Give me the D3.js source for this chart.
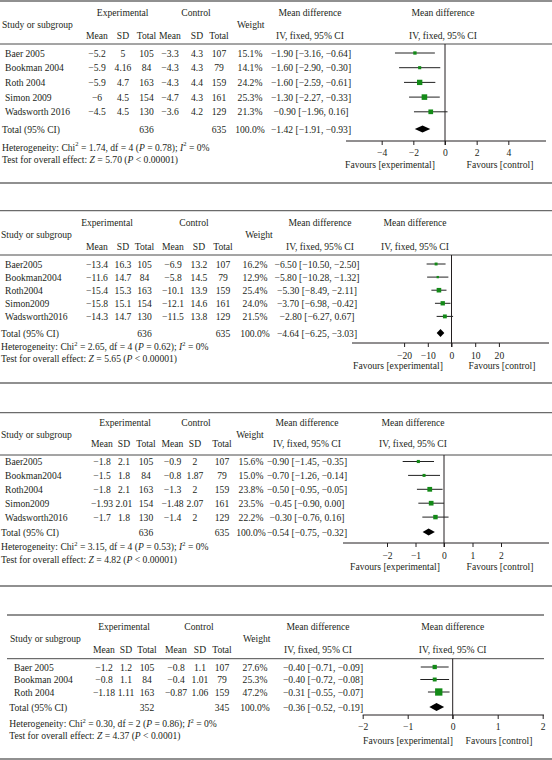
<!DOCTYPE html>
<html><head><meta charset="utf-8">
<script src="https://cdn.jsdelivr.net/npm/d3@7"></script>
<style>
body{margin:0;background:#fff}
svg{display:block}
text{font-family:"Liberation Serif","Times New Roman",serif;font-size:9.6px;fill:#231f20}
</style>
</head><body>
<svg id="c" width="552" height="760"></svg>
<script>
// ---------- DATA ----------
// Panel 1
const p1Studies = ["Baer 2005","Bookman 2004","Roth 2004","Simon 2009","Wadsworth 2016"];
const p1ExpMean = [-5.2,-5.9,-5.9,-6,-4.5];
const p1ExpSD   = [5,4.16,4.7,4.5,4.5];
const p1ExpN    = [105,84,163,154,130];
const p1CtlMean = [-3.3,-4.3,-4.3,-4.7,-3.6];
const p1CtlSD   = [4.3,4.3,4.4,4.3,4.2];
const p1CtlN    = [107,79,159,161,129];
const p1Weight  = [15.1,14.1,24.2,25.3,21.3];
const p1MD      = [-1.90,-1.60,-1.60,-1.30,-0.90];
const p1Lo      = [-3.16,-2.90,-2.59,-2.27,-1.96];
const p1Hi      = [-0.64,-0.30,-0.61,-0.33,0.16];
const p1Total   = {expN:636, ctlN:635, md:-1.42, lo:-1.91, hi:-0.93};
const p1Het     = {chi:"1.74", df:4, p:"0.78", i2:"0%"};
const p1Test    = {z:"5.70", p:"< 0.00001"};
const p1Ticks   = [-4,-2,0,2,4];

// Panel 2
const p2Studies = ["Baer2005","Bookman2004","Roth2004","Simon2009","Wadsworth2016"];
const p2ExpMean = [-13.4,-11.6,-15.4,-15.8,-14.3];
const p2ExpSD   = [16.3,14.7,15.3,15.1,14.7];
const p2ExpN    = [105,84,163,154,130];
const p2CtlMean = [-6.9,-5.8,-10.1,-12.1,-11.5];
const p2CtlSD   = [13.2,14.5,13.9,14.6,13.8];
const p2CtlN    = [107,79,159,161,129];
const p2Weight  = [16.2,12.9,25.4,24.0,21.5];
const p2MD      = [-6.50,-5.80,-5.30,-3.70,-2.80];
const p2Lo      = [-10.50,-10.28,-8.49,-6.98,-6.27];
const p2Hi      = [-2.50,-1.32,-2.11,-0.42,0.67];
const p2Total   = {expN:636, ctlN:635, md:-4.64, lo:-6.25, hi:-3.03};
const p2Het     = {chi:"2.65", df:4, p:"0.62", i2:"0%"};
const p2Test    = {z:"5.65", p:"< 0.00001"};
const p2Ticks   = [-20,-10,0,10,20];

// Panel 3
const p3Studies = ["Baer2005","Bookman2004","Roth2004","Simon2009","Wadsworth2016"];
const p3ExpMean = [-1.8,-1.5,-1.8,-1.93,-1.7];
const p3ExpSD   = [2.1,1.8,2.1,2.01,1.8];
const p3ExpN    = [105,84,163,154,130];
const p3CtlMean = [-0.9,-0.8,-1.3,-1.48,-1.4];
const p3CtlSD   = [2,1.87,2,2.07,2];
const p3CtlN    = [107,79,159,161,129];
const p3Weight  = [15.6,15.0,23.8,23.5,22.2];
const p3MD      = [-0.90,-0.70,-0.50,-0.45,-0.30];
const p3Lo      = [-1.45,-1.26,-0.95,-0.90,-0.76];
const p3Hi      = [-0.35,-0.14,-0.05,0.00,0.16];
const p3Total   = {expN:636, ctlN:635, md:-0.54, lo:-0.75, hi:-0.32};
const p3Het     = {chi:"3.15", df:4, p:"0.53", i2:"0%"};
const p3Test    = {z:"4.82", p:"< 0.00001"};
const p3Ticks   = [-2,-1,0,1,2];

// Panel 4
const p4Studies = ["Baer 2005","Bookman 2004","Roth 2004"];
const p4ExpMean = [-1.2,-0.8,-1.18];
const p4ExpSD   = [1.2,1.1,1.11];
const p4ExpN    = [105,84,163];
const p4CtlMean = [-0.8,-0.4,-0.87];
const p4CtlSD   = [1.1,1.01,1.06];
const p4CtlN    = [107,79,159];
const p4Weight  = [27.6,25.3,47.2];
const p4MD      = [-0.40,-0.40,-0.31];
const p4Lo      = [-0.71,-0.72,-0.55];
const p4Hi      = [-0.09,-0.08,-0.07];
const p4Total   = {expN:352, ctlN:345, md:-0.36, lo:-0.52, hi:-0.19};
const p4Het     = {chi:"0.30", df:2, p:"0.86", i2:"0%"};
const p4Test    = {z:"4.37", p:"< 0.0001"};
const p4Ticks   = [-2,-1,0,1,2];

// ---------- LAYOUT ----------
const layouts = [
 {top:1, topX:[0,552], hdrLine:44, hdrX:[0,552], bottom:183, bottomX:[0,552],
  h1:12.7, h2:24, h3:35, rowY0:53, rowStep:14.7, totY:129, hetY:146.5, testY:158.5,
  axisY:141, tickY:152, favY:164, axisX:[346,546], zero:445, unit:15.83, favX:[390,500],
  cName:5, cTot:2, cEM:97, cESD:123, cEN:146.5, cCM:170, cCSD:197, cCN:219, cW:250, cMD:311,
  hStudy:2, hExp:122.7, hCtl:196, hW:250.7, hMD1:310, hMD2:443, sq:0.22, dH:7},
 {top:210.7, topX:[0,552], hdrLine:255, hdrX:[0,552], bottom:383, bottomX:[0,552],
  h1:222, h2:234.5, h3:246, rowY0:264, rowStep:13.1, totY:333, hetY:346, testY:358,
  axisY:343, tickY:355, favY:365.5, axisX:[352,549], zero:451.5, unit:2.37, favX:[398,502],
  cName:5, cTot:1, cEM:97, cESD:123, cEN:144.5, cCM:173, cCSD:199, cCN:223, cW:255, cMD:317,
  hStudy:1, hExp:107, hCtl:194, hW:259, hMD1:320, hMD2:415, sq:0.18, dH:8},
 {top:412.7, topX:[0,552], hdrLine:455, hdrX:[0,552], bottom:586, bottomX:[0,552],
  h1:422.7, h2:434, h3:443.5, rowY0:461.5, rowStep:13.9, totY:532, hetY:546, testY:559,
  axisY:543, tickY:555, favY:566.5, axisX:[343,549], zero:444, unit:28.5, favX:[395,500],
  cName:5, cTot:1, cEM:102, cESD:124, cEN:146, cCM:172.5, cCSD:195, cCN:222, cW:251, cMD:307,
  hStudy:1, hExp:125, hCtl:196, hW:250, hMD1:307, hMD2:413, sq:0.2, dH:7},
 {top:615, topX:[7,544], hdrLine:658.7, hdrX:[7,544], bottom:759, bottomX:[0,552],
  h1:626.7, h2:638.7, h3:649, rowY0:667, rowStep:12.5, totY:707, hetY:723, testY:735,
  axisY:715, tickY:726, favY:740, axisX:[362.7,544], zero:452.7, unit:45, favX:[408,499],
  cName:14, cTot:9.3, cEM:104, cESD:126, cEN:147, cCM:176, cCSD:200, cCN:222, cW:255, cMD:323,
  hStudy:10, hExp:124, hCtl:199, hW:256.7, hMD1:318, hMD2:452.7, sq:0.155, dH:8}
];

const panels = [
 {studies:p1Studies, em:p1ExpMean, esd:p1ExpSD, en:p1ExpN, cm:p1CtlMean, csd:p1CtlSD, cn:p1CtlN, w:p1Weight, md:p1MD, lo:p1Lo, hi:p1Hi, total:p1Total, het:p1Het, test:p1Test, ticks:p1Ticks},
 {studies:p2Studies, em:p2ExpMean, esd:p2ExpSD, en:p2ExpN, cm:p2CtlMean, csd:p2CtlSD, cn:p2CtlN, w:p2Weight, md:p2MD, lo:p2Lo, hi:p2Hi, total:p2Total, het:p2Het, test:p2Test, ticks:p2Ticks},
 {studies:p3Studies, em:p3ExpMean, esd:p3ExpSD, en:p3ExpN, cm:p3CtlMean, csd:p3CtlSD, cn:p3CtlN, w:p3Weight, md:p3MD, lo:p3Lo, hi:p3Hi, total:p3Total, het:p3Het, test:p3Test, ticks:p3Ticks},
 {studies:p4Studies, em:p4ExpMean, esd:p4ExpSD, en:p4ExpN, cm:p4CtlMean, csd:p4CtlSD, cn:p4CtlN, w:p4Weight, md:p4MD, lo:p4Lo, hi:p4Hi, total:p4Total, het:p4Het, test:p4Test, ticks:p4Ticks}
];

// ---------- DRAW ----------
const svg = d3.select("#c");
const neg = s => String(s).replace(/-/g, "\u2212");
const f2 = v => neg(d3.format(".2f")(v));
const ciText = (m,l,h) => `${f2(m)} [${f2(l)}, ${f2(h)}]`;
const GREEN = "#138a17";

function txt(g, x, y, s, anchor) {
  return g.append("text").attr("x", x).attr("y", y)
    .attr("dominant-baseline", "central")
    .attr("text-anchor", anchor || "middle").text(s);
}
function hline(g, x0, x1, y, color, w) {
  g.append("line").attr("x1", x0).attr("x2", x1).attr("y1", y).attr("y2", y)
    .attr("stroke", color).attr("stroke-width", w);
}

panels.forEach((P, i) => {
  const L = layouts[i];
  const g = svg.append("g");
  hline(g, L.topX[0], L.topX[1], L.top, "#6b6b6b", 1.3);
  hline(g, L.hdrX[0], L.hdrX[1], L.hdrLine, "#4a4a4a", 1);
  hline(g, L.bottomX[0], L.bottomX[1], L.bottom, "#6b6b6b", 1.3);

  txt(g, L.hStudy, L.h2, "Study or subgroup", "start");
  txt(g, L.hExp, L.h1, "Experimental");
  txt(g, L.hCtl, L.h1, "Control");
  txt(g, L.hW, L.h2, "Weight");
  txt(g, L.hMD1, L.h1, "Mean difference");
  txt(g, L.hMD2, L.h1, "Mean difference");
  txt(g, L.hMD1, L.h3, "IV, fixed, 95% CI");
  txt(g, L.hMD2, L.h3, "IV, fixed, 95% CI");
  [[L.cEM,"Mean"],[L.cESD,"SD"],[L.cEN,"Total"],[L.cCM,"Mean"],[L.cCSD,"SD"],[L.cCN,"Total"]]
    .forEach(([x,s]) => txt(g, x, L.h3, s));

  const n = P.studies.length;
  const y = d3.scalePoint().domain(d3.range(n))
    .range([L.rowY0, L.rowY0 + L.rowStep*(n-1)]);
  const x = d3.scaleLinear().domain([P.ticks[0], P.ticks[P.ticks.length-1]])
    .range([L.zero + P.ticks[0]*L.unit, L.zero + P.ticks[P.ticks.length-1]*L.unit]);
  const sq = d3.scaleLinear().domain([0,100]).range([0, 100*L.sq]);

  P.studies.forEach((s, k) => {
    const yy = y(k);
    txt(g, L.cName, yy, s, "start");
    txt(g, L.cEM, yy, neg(P.em[k]));
    txt(g, L.cESD, yy, neg(P.esd[k]));
    txt(g, L.cEN, yy, P.en[k]);
    txt(g, L.cCM, yy, neg(P.cm[k]));
    txt(g, L.cCSD, yy, neg(P.csd[k]));
    txt(g, L.cCN, yy, P.cn[k]);
    txt(g, L.cW, yy, d3.format(".1f")(P.w[k]) + "%");
    txt(g, L.cMD, yy, ciText(P.md[k], P.lo[k], P.hi[k]));
  });
  txt(g, L.cTot, L.totY, "Total (95% CI)", "start");
  txt(g, L.cEN, L.totY, P.total.expN);
  txt(g, L.cCN, L.totY, P.total.ctlN);
  txt(g, L.cW, L.totY, "100.0%");
  txt(g, L.cMD, L.totY, ciText(P.total.md, P.total.lo, P.total.hi));

  const het = g.append("text").attr("x", L.cTot).attr("y", L.hetY).attr("dominant-baseline","central");
  het.append("tspan").text("Heterogeneity: Chi");
  het.append("tspan").attr("dy", -3.5).attr("font-size", "6.5px").text("2");
  het.append("tspan").attr("dy", 3.5).text(` = ${P.het.chi}, df = ${P.het.df} (`);
  het.append("tspan").attr("font-style","italic").text("P");
  het.append("tspan").text(` = ${P.het.p}); `);
  het.append("tspan").attr("font-style","italic").text("I");
  het.append("tspan").attr("dy", -3.5).attr("font-size", "6.5px").text("2");
  het.append("tspan").attr("dy", 3.5).text(` = ${P.het.i2}`);
  const tst = g.append("text").attr("x", L.cTot).attr("y", L.testY).attr("dominant-baseline","central");
  tst.append("tspan").text("Test for overall effect: ");
  tst.append("tspan").attr("font-style","italic").text("Z");
  tst.append("tspan").text(` = ${P.test.z} (`);
  tst.append("tspan").attr("font-style","italic").text("P");
  tst.append("tspan").text(` ${P.test.p})`);

  g.append("line").attr("x1", x(0)).attr("x2", x(0))
    .attr("y1", L.hdrLine).attr("y2", L.axisY + 4)
    .attr("stroke", "#231f20").attr("stroke-width", 1);
  hline(g, L.axisX[0], L.axisX[1], L.axisY, "#231f20", 1);
  const ax = g.append("g").attr("transform", `translate(0,${L.axisY})`)
    .call(d3.axisBottom(x).tickValues(P.ticks).tickSize(4).tickFormat(d => neg(d)));
  ax.select(".domain").remove();
  ax.selectAll(".tick line").attr("stroke", "#231f20");
  ax.selectAll(".tick text").attr("y", L.tickY - L.axisY).attr("dy", null)
    .attr("dominant-baseline","central")
    .style("font-family", '"Liberation Serif","Times New Roman",serif').style("font-size","9.6px").attr("fill","#231f20");
  txt(g, L.favX[0], L.favY, "Favours [experimental]");
  txt(g, L.favX[1], L.favY, "Favours [control]");

  g.selectAll(".ci").data(d3.range(n)).join("line")
    .attr("x1", k => x(P.lo[k])).attr("x2", k => x(P.hi[k]))
    .attr("y1", k => y(k)).attr("y2", k => y(k))
    .attr("stroke", "#222").attr("stroke-width", 1);
  g.selectAll(".sq").data(d3.range(n)).join("rect")
    .attr("x", k => x(P.md[k]) - sq(P.w[k])/2)
    .attr("y", k => y(k) - sq(P.w[k])/2)
    .attr("width", k => sq(P.w[k])).attr("height", k => sq(P.w[k]))
    .attr("fill", GREEN);
  const T = P.total, dh = L.dH/2;
  g.append("path")
    .attr("d", `M${x(T.lo)},${L.totY} L${x(T.md)},${L.totY-dh} L${x(T.hi)},${L.totY} L${x(T.md)},${L.totY+dh} Z`)
    .attr("fill", "#000");
});
</script>
</body></html>
